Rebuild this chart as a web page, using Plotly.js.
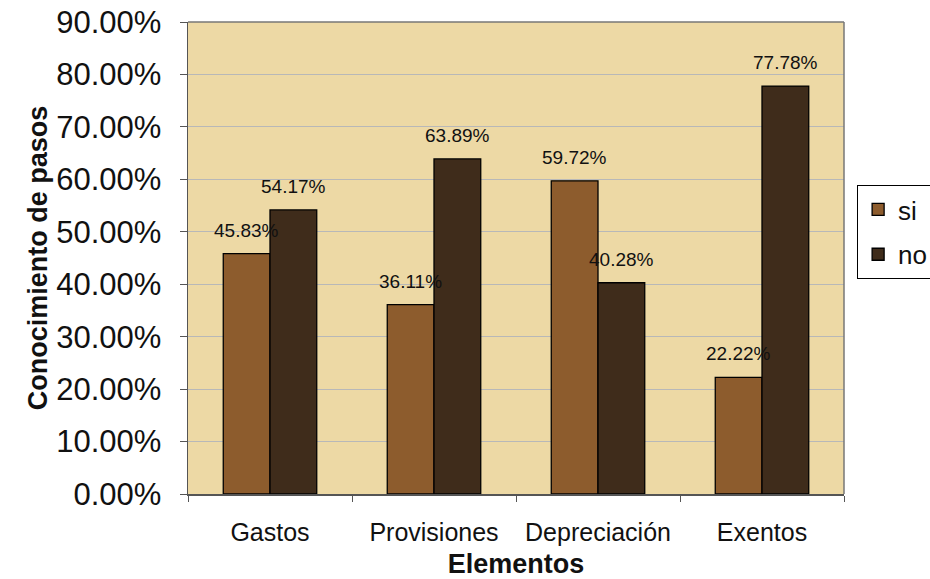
<!DOCTYPE html>
<html>
<head>
<meta charset="utf-8">
<script src="https://cdn.plot.ly/plotly-3.0.1.min.js"></script>
<style>html,body{margin:0;padding:0;background:#fff;}#chart{width:930px;height:579px;}</style>
</head>
<body>
<div id="chart"></div>
<script>
const categories = ["Gastos", "Provisiones", "Depreciación", "Exentos"];
const siValues = [45.83, 36.11, 59.72, 22.22];
const noValues = [54.17, 63.89, 40.28, 77.78];
const seriesNames = ["si", "no"];
const yTickValues = [0, 10, 20, 30, 40, 50, 60, 70, 80, 90];
const yTickLabels = yTickValues.map(v => v.toFixed(2) + "%");

const fmt = v => v.toFixed(2) + "%";
const FONT = "Liberation Sans, Arial, sans-serif";
const BARGAP = 0.43;
const half = (1 - BARGAP) / 4; // centre offset of each bar within its group

const traces = [
  {
    type: "bar", name: seriesNames[0], legendgroup: "g1", x: categories, y: siValues,
    marker: {color: "#8d5c2d", line: {color: "#000", width: 1.3}}
  },
  {
    type: "bar", name: seriesNames[1], legendgroup: "g2", x: categories, y: noValues,
    marker: {color: "#3f2c1b", line: {color: "#000", width: 1.3}}
  }
];

const annotations = [];
categories.forEach((c, i) => {
  [[siValues, -half], [noValues, half]].forEach(([arr, off]) => {
    annotations.push({
      x: i + off, y: arr[i], xref: "x", yref: "y",
      text: fmt(arr[i]), showarrow: false,
      yanchor: "bottom", xanchor: "center", yshift: 11,
      font: {family: FONT, size: 19, color: "#111"}
    });
  });
});

const layout = {
  width: 930, height: 579,
  margin: {l: 188, r: 86, t: 22, b: 85, autoexpand: false},
  paper_bgcolor: "#ffffff",
  plot_bgcolor: "#edd9a5",
  font: {family: FONT, color: "#111"},
  bargap: BARGAP, bargroupgap: 0,
  barmode: "group",
  showlegend: true,
  legend: {
    x: 1.02, xanchor: "left", y: 0.555, yanchor: "middle",
    bordercolor: "#000", borderwidth: 1, bgcolor: "#fff",
    font: {size: 26, color: "#111"}, itemwidth: 20, tracegroupgap: 8
  },
  annotations: annotations,
  xaxis: {
    type: "category", tickson: "boundaries",
    ticks: "outside", ticklen: 6, tickcolor: "#555",
    showline: true, linecolor: "#555", linewidth: 1.5,
    tickfont: {size: 25, color: "#111"}, ticklabelstandoff: 15,
    title: {text: "<b>Elementos</b>", font: {size: 27, color: "#111"}, standoff: 14},
    showgrid: false, fixedrange: true
  },
  yaxis: {
    range: [0, 90], tickvals: yTickValues, ticktext: yTickLabels,
    ticks: "outside", ticklen: 7, tickcolor: "#555",
    showline: true, linecolor: "#555", linewidth: 1.5,
    showgrid: true, gridcolor: "#b8b8b8", gridwidth: 1,
    zeroline: false,
    tickfont: {size: 31, color: "#111"}, ticklabelstandoff: 12,
    title: {text: "<b>Conocimiento de pasos</b>", font: {size: 27, color: "#111"}, standoff: 0}
  },
  shapes: [
    {type: "line", xref: "paper", yref: "paper", x0: 0, x1: 1, y0: 1, y1: 1, line: {color: "#777", width: 1.5}},
    {type: "line", xref: "paper", yref: "paper", x0: 1, x1: 1, y0: 0, y1: 1, line: {color: "#777", width: 1.5}}
  ]
};

Plotly.newPlot("chart", traces, layout, {displayModeBar: false, staticPlot: true});
</script>
</body>
</html>
